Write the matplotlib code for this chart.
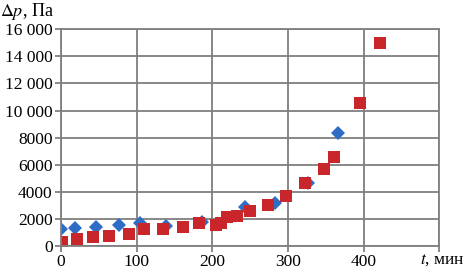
import matplotlib
matplotlib.use("Agg")
import matplotlib.pyplot as plt

# Series 1 (blue diamonds)
t_blue = [0, 18, 46, 76, 104, 139, 186, 243, 283, 327, 366]
p_blue = [1250, 1350, 1430, 1560, 1680, 1450, 1800, 2900, 3180, 4680, 8370]

# Series 2 (red squares)
t_red = [1, 21, 42, 64, 90, 110, 135, 161, 183, 205, 212, 219, 232, 250,
         273, 298, 322, 348, 361, 395, 421]
p_red = [320, 490, 640, 740, 890, 1250, 1260, 1430, 1680, 1550, 1700, 2160,
         2250, 2610, 3000, 3660, 4630, 5660, 6550, 10540, 14970]

x_ticks = [0, 100, 200, 300, 400, 500]
x_labels = ["0", "100", "200", "300", "400", ""]
y_ticks = [0, 2000, 4000, 6000, 8000, 10000, 12000, 14000, 16000]
y_labels = ["0", "2000", "4000", "6000", "8000", "10 000", "12 000", "14 000", "16 000"]

plt.rcParams['font.family'] = ['Liberation Serif', 'DejaVu Serif']
plt.rcParams['mathtext.fontset'] = 'stix'

fig = plt.figure(figsize=(4.66, 2.72), dpi=100)
ax = fig.add_axes([0.1309, 0.0956, 0.9427 - 0.1309, 0.8923 - 0.0956])

grid_c = '#7f7f7f'
ax.set_xlim(0, 500)
ax.set_ylim(0, 16000)
ax.set_xticks(x_ticks)
ax.set_xticklabels(x_labels)
ax.set_yticks(y_ticks)
ax.set_yticklabels(y_labels)
ax.grid(True, color=grid_c, linewidth=1.3)
ax.set_axisbelow(True)
for s in ax.spines.values():
    s.set_color(grid_c)
    s.set_linewidth(1.3)
ax.tick_params(axis='both', direction='out', length=4, width=1.3, color=grid_c,
               labelsize=12.5, pad=2)

ax.plot(t_blue, p_blue, linestyle='none', marker='D', markersize=6.8,
        color='#2f6cc6', markeredgewidth=0)
ax.plot(t_red, p_red, linestyle='none', marker='s', markersize=8,
        color='#c8262b', markeredgewidth=0)

fig.text(0.0, 0.995, r"$\Delta p$, Па", ha='left', va='top', fontsize=13)
fig.text(0.997, 0.03, r"$t$, мин", ha='right', va='baseline', fontsize=12.5)

fig.savefig("out.png", dpi=100)
